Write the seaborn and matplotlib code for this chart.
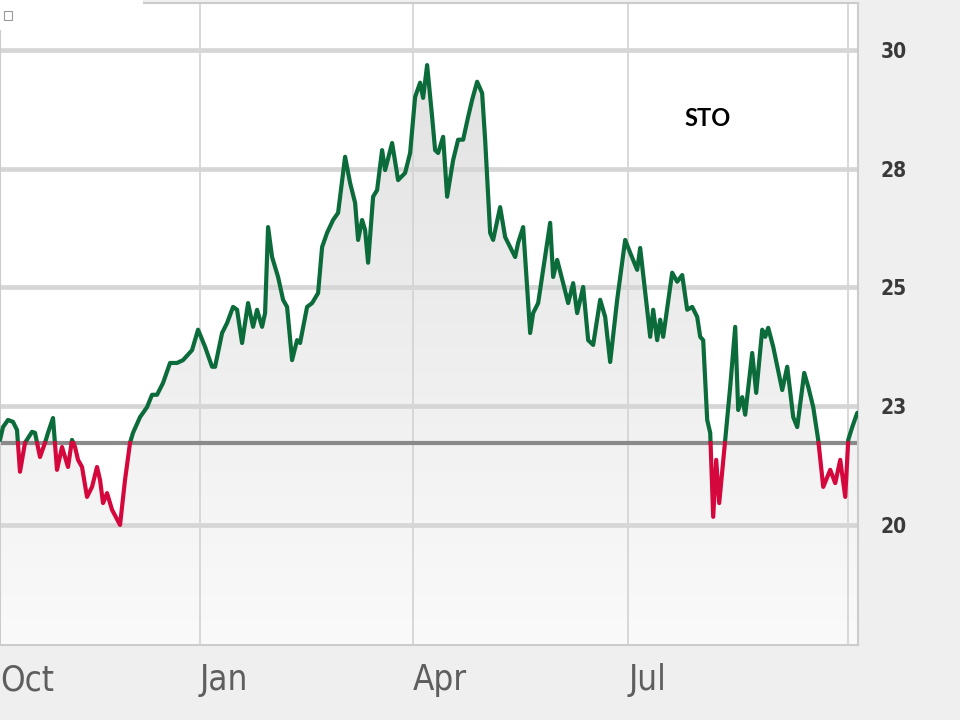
import numpy as np
import pandas as pd
import seaborn as sns
import matplotlib.pyplot as plt
from matplotlib.colors import LinearSegmentedColormap
from matplotlib.patches import PathPatch, Rectangle

# session index along the time axis and closing price
t = [0, 3, 8, 13, 17, 20, 25, 32, 35, 40, 45, 48, 53, 57, 62, 65, 68, 72, 75, 78,
     82, 87, 92, 97, 100, 103, 107, 112, 120, 125, 130, 133, 140, 147, 152, 157, 163, 170, 177, 183,
     192, 198,
     205, 212, 215, 222, 227, 233, 237, 242, 248, 253, 257, 262, 265, 268, 272, 278, 283, 287, 292, 297,
     300, 307, 312, 318, 322, 327, 333, 338, 345, 350, 355, 358, 362, 365, 368, 373, 377, 382, 385, 392,
     398, 405, 410,
     415, 420, 423, 427, 432, 435, 438, 443, 447, 453, 458, 463, 468, 472, 477, 482, 485, 490, 493, 500,
     505, 510, 515, 518, 523, 530, 533, 538, 550, 553, 557, 563, 568, 573, 577, 583, 588, 593, 600, 605,
     610, 617,
     625, 630, 637, 640, 647, 650, 653, 657, 660, 663, 672, 677, 682, 687, 692, 697, 700, 703, 707, 710,
     713, 716, 719, 725, 730, 735, 738, 742, 745, 752, 756, 762, 765, 768, 773, 782, 787, 793, 797, 804,
     808, 813, 818, 823, 830, 835, 840, 845, 848, 852, 857]
price = [21.79, 22.06, 22.21, 22.17, 22.00, 21.12, 21.73, 21.96, 21.94, 21.43,
         21.73, 21.94, 22.25, 21.16, 21.64, 21.43, 21.22, 21.79, 21.64, 21.37,
         21.22, 20.59, 20.80, 21.22, 20.95, 20.46, 20.67, 20.32, 20.00, 20.95,
         21.73, 21.94, 22.27, 22.48, 22.74, 22.74, 22.99, 23.41, 23.41, 23.47,
         23.68, 24.11,
         23.75, 23.33, 23.33, 24.04, 24.25, 24.59, 24.53, 23.83, 24.67, 24.17,
         24.53, 24.17, 24.46, 26.27, 25.64, 25.22, 24.74, 24.59, 23.47, 23.89,
         23.83, 24.59, 24.67, 24.88, 25.85, 26.15, 26.42, 26.57, 27.75, 27.20,
         26.78, 26.00, 26.42, 26.21, 25.52, 26.91, 27.05, 27.89, 27.47, 28.04,
         27.26, 27.41, 27.83,
         29.01, 29.31, 28.99, 29.68, 28.59, 27.89, 27.83, 28.17, 26.91, 27.68,
         28.11, 28.11, 28.59, 28.95, 29.33, 29.09, 28.11, 26.15, 26.00, 26.69,
         26.06, 25.85, 25.64, 25.94, 26.27, 24.04, 24.46, 24.67, 26.36, 25.22,
         25.58, 25.09, 24.67, 25.09, 24.46, 25.01, 23.89, 23.79, 24.74, 24.38,
         23.43, 24.74,
         26.00, 25.73, 25.37, 25.83, 24.53, 23.96, 24.53, 23.89, 24.32, 23.96,
         25.31, 25.12, 25.26, 24.53, 24.59, 24.38, 23.96, 23.89, 22.21, 21.94,
         20.17, 21.37, 20.46, 21.79, 22.91, 24.17, 22.42, 22.69, 22.32, 23.62,
         22.78, 24.11, 23.96, 24.15, 23.75, 22.84, 23.33, 22.27, 22.06, 23.20,
         22.91, 22.48, 21.79, 20.80, 21.16, 20.88, 21.37, 20.59, 21.79, 22.06,
         22.36]
base = 21.73  # reference price line

month_pos = [0, 200, 413, 628, 848]
month_lab = ['Oct', 'Jan', 'Apr', 'Jul', '']
ytick_val = [20, 22.5, 25, 27.5, 30]
ytick_lab = ['20', '23', '25', '28', '30']

# split the line where it crosses the reference price
rows = []
seg = 0
side = 'up' if price[0] >= base else 'down'
rows.append((t[0], price[0], seg, side))
for i in range(1, len(t)):
    p0, p1 = price[i - 1], price[i]
    s1 = 'up' if p1 >= base else 'down'
    if s1 != side:
        tc = t[i - 1] + (base - p0) / (p1 - p0) * (t[i] - t[i - 1])
        rows.append((tc, base, seg, side))
        seg += 1
        side = s1
        rows.append((tc, base, seg, side))
    rows.append((t[i], p1, seg, side))
df = pd.DataFrame(rows, columns=['t', 'price', 'seg', 'side'])

sns.set_style('white')
plt.rcParams['font.family'] = ['DejaVu Sans']
plt.rcParams['font.stretch'] = 'condensed'

fig = plt.figure(figsize=(9.6, 7.2), dpi=100, facecolor='#efefef')
ax = fig.add_axes([0.0, 0.104, 0.894, 0.892])
ax.set_facecolor('white')

ymin, ymax = 17.47, 30.99
xmin, xmax = 0, 858

# gradient fill under the line
poly = ax.fill_between(t, price, ymin, color='none', lw=0)
patch = PathPatch(poly.get_paths()[0], transform=ax.transData,
                  facecolor='none', edgecolor='none')
ax.add_patch(patch)
cmap = LinearSegmentedColormap.from_list('g', ['#fafafa', '#e0e0e0'])
grad = np.linspace(0, 1, 256).reshape(-1, 1)
img = ax.imshow(grad, extent=[xmin, xmax, ymin, ymax], origin='lower',
                aspect='auto', cmap=cmap, zorder=0.4)
img.set_clip_path(patch)

ax.axhline(base, color='#8a8a8a', lw=3, zorder=2)

sns.lineplot(data=df, x='t', y='price', hue='side', units='seg', estimator=None,
             sort=False, palette={'up': '#0b6b3a', 'down': '#d4083c'},
             lw=3, legend=False, ax=ax, zorder=3)

ax.set_xlim(xmin, xmax)
ax.set_ylim(ymin, ymax)
ax.set_axisbelow('line')
ax.grid(axis='y', color='#d6d6d6', lw=3.4)
ax.grid(axis='x', color='#d2d2d2', lw=1.2)

ax.set_xticks(month_pos)
ax.set_xticklabels(month_lab, ha='left', fontsize=25, color='#5e5e5e')
ax.set_yticks(ytick_val)
ax.set_yticklabels(ytick_lab, fontsize=15, color='#3a3a3a', fontweight='bold')
ax.yaxis.tick_right()
ax.tick_params(axis='x', length=0, pad=13)
ax.tick_params(axis='y', length=0, pad=16)
ax.set_xlabel('')
ax.set_ylabel('')
for sp in ax.spines.values():
    sp.set_color('#cccccc')
    sp.set_linewidth(1.5)

ax.text(707, 28.55, 'STO', ha='center', va='center', fontsize=17,
        fontweight='bold', color='black', family=['Lato', 'DejaVu Sans'])

# small white box in the corner
fig.patches.append(Rectangle((0, 1 - 30 / 720), 143 / 960, 30 / 720,
                             transform=fig.transFigure, facecolor='white',
                             edgecolor='none', zorder=5))
fig.patches.append(Rectangle((4 / 960, 1 - 20 / 720), 8 / 960, 9 / 720,
                             transform=fig.transFigure, facecolor='white',
                             edgecolor='#999999', lw=0.8, zorder=6))

fig.savefig('out.png', dpi=100, facecolor=fig.get_facecolor())
